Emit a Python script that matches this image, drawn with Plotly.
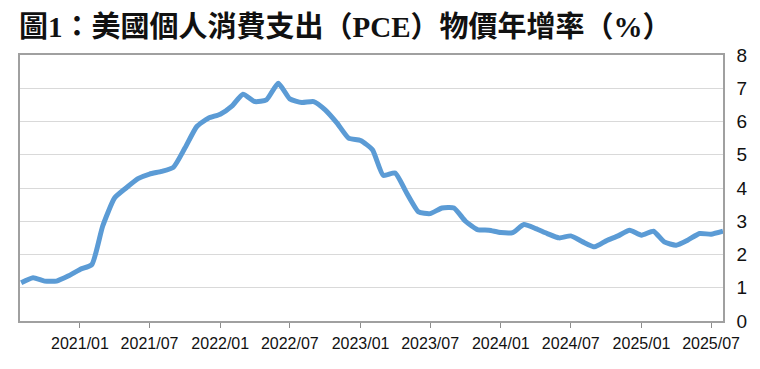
import plotly.graph_objects as go

months = [
    "2020-08-01", "2020-09-01", "2020-10-01", "2020-11-01", "2020-12-01",
    "2021-01-01", "2021-02-01", "2021-03-01", "2021-04-01", "2021-05-01", "2021-06-01",
    "2021-07-01", "2021-08-01", "2021-09-01", "2021-10-01", "2021-11-01", "2021-12-01",
    "2022-01-01", "2022-02-01", "2022-03-01", "2022-04-01", "2022-05-01", "2022-06-01",
    "2022-07-01", "2022-08-01", "2022-09-01", "2022-10-01", "2022-11-01", "2022-12-01",
    "2023-01-01", "2023-02-01", "2023-03-01", "2023-04-01", "2023-05-01", "2023-06-01",
    "2023-07-01", "2023-08-01", "2023-09-01", "2023-10-01", "2023-11-01", "2023-12-01",
    "2024-01-01", "2024-02-01", "2024-03-01", "2024-04-01", "2024-05-01", "2024-06-01",
    "2024-07-01", "2024-08-01", "2024-09-01", "2024-10-01", "2024-11-01", "2024-12-01",
    "2025-01-01", "2025-02-01", "2025-03-01", "2025-04-01", "2025-05-01", "2025-06-01",
    "2025-07-01", "2025-08-01",
]

pce_yoy = [
    1.15, 1.30, 1.20, 1.20, 1.35,
    1.55, 1.70, 2.85, 3.70, 4.00, 4.28,
    4.42, 4.50, 4.62, 5.20, 5.85, 6.10,
    6.22, 6.47, 6.82, 6.60, 6.65, 7.15,
    6.68, 6.57, 6.60, 6.35, 5.95, 5.50,
    5.43, 5.15, 4.38, 4.45, 3.85, 3.28,
    3.23, 3.40, 3.40, 3.00, 2.75, 2.73,
    2.66, 2.66, 2.90, 2.78, 2.63, 2.50,
    2.56, 2.38, 2.23, 2.41, 2.56, 2.73,
    2.58, 2.70, 2.38, 2.28, 2.43, 2.63,
    2.61, 2.70,
]

tick_dates = ["2021-01-01", "2021-07-01", "2022-01-01", "2022-07-01", "2023-01-01",
              "2023-07-01", "2024-01-01", "2024-07-01", "2025-01-01", "2025-07-01"]
tick_labels = ["2021/01", "2021/07", "2022/01", "2022/07", "2023/01",
               "2023/07", "2024/01", "2024/07", "2025/01", "2025/07"]

y_ticks = [0, 1, 2, 3, 4, 5, 6, 7, 8]

title_text = "圖1：美國個人消費支出（PCE）物價年增率（%）"

# the page body has an 8px default margin, so the figure is 8px smaller
W, H = 752, 361

fig = go.Figure()
fig.add_trace(go.Scatter(
    x=months, y=pce_yoy, mode="lines",
    line=dict(color="#5B9BD5", width=5, shape="spline", smoothing=0.5),
    showlegend=False, hoverinfo="skip",
))

fig.update_layout(
    width=W, height=H,
    margin=dict(l=12, r=37, t=47, b=48, autoexpand=False),
    paper_bgcolor="white", plot_bgcolor="white",
    title=dict(
        text="<b>" + title_text + "</b>",
        font=dict(family="Liberation Serif, Noto Sans CJK TC", size=29, color="#111111"),
        x=11 / W, xanchor="left", xref="container",
        y=1 - 19 / H, yanchor="middle", yref="container",
    ),
    xaxis=dict(
        type="date",
        range=["2020-07-29", "2025-08-01"],
        tickvals=tick_dates, ticktext=tick_labels,
        ticks="outside", ticklen=5, tickcolor="#8c8c8c", tickwidth=1,
        showgrid=False, zeroline=False,
        showline=True, linecolor="#a0a0a0", linewidth=1.5, mirror=True,
        ticklabelstandoff=2,
        tickfont=dict(family="Liberation Sans, Arial", size=16, color="#111111"),
    ),
    yaxis=dict(
        side="right", range=[0, 8], tickvals=y_ticks,
        ticks="", showgrid=True, gridcolor="#d9d9d9", gridwidth=1,
        zeroline=False, showline=True, linecolor="#a0a0a0", linewidth=1.5, mirror=True,
        ticklabelstandoff=8,
        tickfont=dict(family="Liberation Sans, Arial", size=19, color="#111111"),
    ),
)

fig.write_html("out.html")
